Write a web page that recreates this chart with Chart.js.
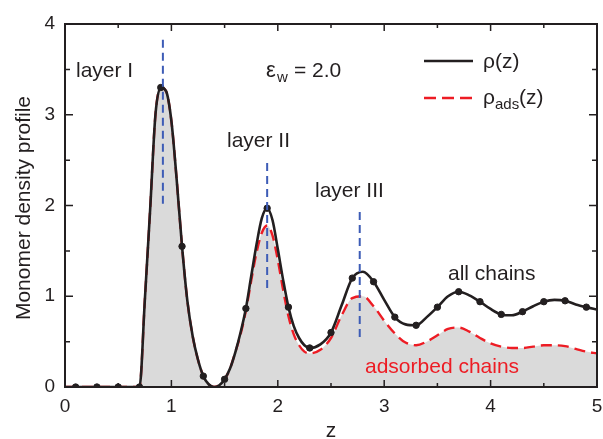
<!DOCTYPE html>
<html>
<head>
<meta charset="utf-8">
<script src="https://cdn.jsdelivr.net/npm/chart.js@4.4.1/dist/chart.umd.min.js"></script>
<style>
  body { margin: 0; background: #fff; }
  #wrap { width: 603px; height: 439px; }
</style>
</head>
<body>
<div id="wrap"><canvas id="myChart"></canvas></div>
<script>
const zGrid = [0, 0.1, 0.2, 0.3, 0.4, 0.5, 0.6, 0.7,
  0.75, 0.8, 0.85, 0.9, 0.95, 1.0, 1.05, 1.1, 1.15, 1.2, 1.25, 1.3,
  1.35, 1.4, 1.45, 1.5, 1.55, 1.6, 1.65, 1.7, 1.75, 1.8, 1.85, 1.9,
  1.95, 2.0, 2.05, 2.1, 2.15, 2.2, 2.25, 2.3,
  2.4, 2.5, 2.6, 2.7, 2.8, 2.9, 3.0, 3.1, 3.2, 3.3, 3.4, 3.5, 3.6, 3.7,
  3.8, 3.9, 4.0, 4.1, 4.2, 4.3, 4.4, 4.5, 4.6, 4.7, 4.8, 4.9, 5.0];

// rho(z), all chains
const rhoAll = [0, 0, 0, 0, 0, 0, 0, 0,
  0.95, 1.95, 3.0, 3.3, 3.26, 2.93, 2.28, 1.55, 0.95, 0.56, 0.3, 0.12,
  0.03, 0, 0.02, 0.085, 0.2, 0.38, 0.6, 0.865, 1.22, 1.57, 1.86, 1.97,
  1.84, 1.52, 1.18, 0.88, 0.67, 0.54, 0.46, 0.43,
  0.47, 0.6, 0.9, 1.2, 1.27, 1.16, 0.96, 0.77, 0.69, 0.68, 0.77, 0.88, 1.0, 1.05,
  1.01, 0.94, 0.86, 0.8, 0.79, 0.83, 0.89, 0.94, 0.96, 0.95, 0.91, 0.88, 0.855];

// rho_ads(z), adsorbed chains
const rhoAds = [0, 0, 0, 0, 0, 0, 0, 0,
  0.95, 1.95, 3.0, 3.3, 3.26, 2.93, 2.28, 1.55, 0.95, 0.56, 0.3, 0.12,
  0.03, 0, 0.02, 0.085, 0.2, 0.38, 0.58, 0.84, 1.17, 1.48, 1.7, 1.78,
  1.67, 1.4, 1.07, 0.78, 0.58, 0.46, 0.39, 0.37,
  0.41, 0.54, 0.79, 0.98, 1.0, 0.89, 0.73, 0.59, 0.49, 0.46, 0.5, 0.57, 0.64, 0.655,
  0.61, 0.54, 0.48, 0.445, 0.43, 0.43, 0.445, 0.46, 0.46, 0.45, 0.42, 0.39, 0.37];

// simulation points (markers on the rho curve)
const zDots = [0.1, 0.3, 0.5, 0.7, 0.9, 1.1, 1.3, 1.5, 1.7, 1.9, 2.1, 2.3, 2.5,
  2.7, 2.9, 3.1, 3.3, 3.5, 3.7, 3.9, 4.1, 4.3, 4.5, 4.7, 4.9];
const rhoDots = [0, 0, 0, 0, 3.3, 1.55, 0.12, 0.085, 0.865, 1.97, 0.88, 0.43, 0.6,
  1.2, 1.16, 0.77, 0.68, 0.88, 1.05, 0.94, 0.8, 0.83, 0.94, 0.95, 0.88];

// layer markers (blue dashed)
const layerZ = [0.92, 1.9, 2.77];
const layerLow = [2.02, 1.09, 0.55];
const layerHigh = [3.86, 2.48, 1.97];

const xTicks = [0, 1, 2, 3, 4, 5];
const yTicks = [0, 1, 2, 3, 4];

const FONT = '"Liberation Sans", Arial, sans-serif';
const INK = '#231f20';
const RED = '#ed1c24';
const BLUE = '#3d5cb6';

const toXY = (xs, ys) => xs.map((x, i) => ({ x: x, y: ys[i] }));

const layerSets = layerZ.map((z, i) => ({
  data: [{ x: z, y: layerLow[i] }, { x: z, y: layerHigh[i] }],
  borderColor: BLUE,
  borderWidth: 2,
  borderDash: [8, 5],
  pointRadius: 0,
  fill: false,
  order: 0
}));

const decor = {
  id: 'decor',
  afterDraw(chart) {
    const { ctx, chartArea: a, scales: { x, y } } = chart;
    ctx.save();
    ctx.strokeStyle = INK;
    ctx.lineWidth = 2;
    ctx.strokeRect(a.left, a.top, a.right - a.left, a.bottom - a.top);

    // inward ticks on all four sides
    ctx.lineWidth = 1.5;
    ctx.beginPath();
    for (let v = 0; v <= 5; v += 0.5) {
      const px = x.getPixelForValue(v);
      const len = Number.isInteger(v) ? 7 : 4;
      ctx.moveTo(px, a.bottom); ctx.lineTo(px, a.bottom - len);
      ctx.moveTo(px, a.top); ctx.lineTo(px, a.top + len);
    }
    for (let v = 0; v <= 4; v += 0.5) {
      const py = y.getPixelForValue(v);
      const len = Number.isInteger(v) ? 8 : 5;
      ctx.moveTo(a.left, py); ctx.lineTo(a.left + len, py);
      ctx.moveTo(a.right, py); ctx.lineTo(a.right - len, py);
    }
    ctx.stroke();

    // annotations
    ctx.fillStyle = INK;
    ctx.font = '21px ' + FONT;
    ctx.textAlign = 'left';
    ctx.textBaseline = 'alphabetic';
    ctx.fillText('layer I', 76, 77);
    ctx.fillText('layer II', 227, 147);
    ctx.fillText('layer III', 315, 197);
    ctx.fillText('all chains', 448, 280);

    // epsilon_w = 2.0
    ctx.font = '22px ' + FONT;
    ctx.fillText('\u03b5', 266, 77);
    ctx.font = '15px ' + FONT;
    ctx.fillText('w', 277, 82);
    ctx.font = '21px ' + FONT;
    ctx.fillText('= 2.0', 294, 77);

    ctx.fillStyle = RED;
    ctx.fillText('adsorbed chains', 365, 373);

    // legend
    ctx.strokeStyle = INK;
    ctx.lineWidth = 2.5;
    ctx.setLineDash([]);
    ctx.beginPath();
    ctx.moveTo(424, 61); ctx.lineTo(473, 61);
    ctx.stroke();
    ctx.strokeStyle = RED;
    ctx.setLineDash([12, 6]);
    ctx.beginPath();
    ctx.moveTo(424, 98); ctx.lineTo(472, 98);
    ctx.stroke();
    ctx.setLineDash([]);

    ctx.fillStyle = INK;
    ctx.fillText('\u03c1(z)', 483, 68);
    ctx.fillText('\u03c1', 483, 104);
    ctx.font = '15px ' + FONT;
    ctx.fillText('ads', 495, 109);
    ctx.font = '21px ' + FONT;
    ctx.fillText('(z)', 519, 104);

    // axis titles
    ctx.textAlign = 'center';
    ctx.fillText('z', 331, 437);
    ctx.translate(30, 208);
    ctx.rotate(-Math.PI / 2);
    ctx.fillText('Monomer density profile', 0, 0);
    ctx.restore();
  }
};

new Chart('myChart', {
  type: 'line',
  data: {
    datasets: [
      ...layerSets,
      {
        type: 'scatter',
        data: toXY(zDots, rhoDots),
        showLine: false,
        pointRadius: 3.2,
        pointBackgroundColor: INK,
        pointBorderColor: INK,
        order: 1
      },
      {
        data: toXY(zGrid, rhoAll),
        borderColor: INK,
        borderWidth: 2.6,
        pointRadius: 0,
        cubicInterpolationMode: 'monotone',
        fill: false,
        order: 2
      },
      {
        data: toXY(zGrid, rhoAds),
        borderColor: RED,
        borderWidth: 2.4,
        borderDash: [11, 6],
        pointRadius: 0,
        cubicInterpolationMode: 'monotone',
        fill: 'origin',
        backgroundColor: '#dadada',
        order: 3
      }
    ]
  },
  options: {
    responsive: true,
    maintainAspectRatio: false,
    animation: false,
    layout: { padding: { top: 24, right: 6, left: 0, bottom: 0 } },
    scales: {
      x: {
        type: 'linear',
        min: 0,
        max: 5,
        afterBuildTicks: s => { s.ticks = xTicks.map(v => ({ value: v })); },
        afterFit: s => { s.height = 52; s.paddingLeft = 0; s.paddingRight = 0; },
        grid: { display: false, drawTicks: false },
        border: { display: false },
        ticks: { color: INK, font: { family: FONT, size: 19 }, padding: 8, maxRotation: 0 }
      },
      y: {
        min: 0,
        max: 4,
        afterBuildTicks: s => { s.ticks = yTicks.map(v => ({ value: v })); },
        afterFit: s => { s.width = 65; s.paddingTop = 0; s.paddingBottom = 0; },
        grid: { display: false, drawTicks: false },
        border: { display: false },
        ticks: { color: INK, font: { family: FONT, size: 19 }, padding: 10 }
      }
    },
    plugins: {
      legend: { display: false },
      tooltip: { enabled: false }
    }
  },
  plugins: [decor]
});
</script>
</body>
</html>
